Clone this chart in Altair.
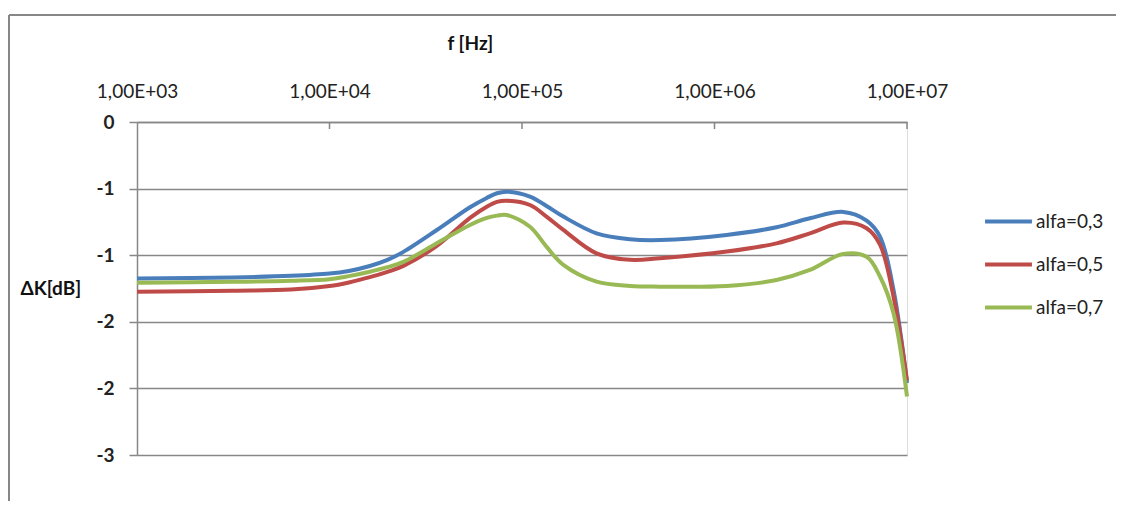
import altair as alt
import pandas as pd

freq = [1e3, 3.16e3, 6.31e3, 1e4, 1.26e4, 1.62e4, 2.0e4, 2.42e4, 3.61e4, 5.37e4, 6.56e4, 7.41e4,
        8.32e4, 1.10e5, 1.34e5, 1.64e5, 2.44e5, 3.64e5, 5.21e5, 1.156e6, 2.1e6, 3.13e6, 4.67e6,
        6.17e6, 7.24e6, 8.51e6, 1e7]
alfa_03 = [-1.175, -1.167, -1.155, -1.138, -1.118, -1.081, -1.035, -0.975, -0.811, -0.64, -0.57,
           -0.535, -0.523, -0.56, -0.63, -0.71, -0.836, -0.88, -0.886, -0.848, -0.79, -0.723,
           -0.675, -0.74, -0.86, -1.26, -1.96]
alfa_05 = [-1.274, -1.266, -1.258, -1.232, -1.205, -1.165, -1.125, -1.08, -0.93, -0.72, -0.636,
           -0.6, -0.591, -0.623, -0.71, -0.81, -0.986, -1.035, -1.023, -0.973, -0.911, -0.836,
           -0.755, -0.798, -0.92, -1.31, -1.94]
alfa_07 = [-1.206, -1.2, -1.192, -1.18, -1.157, -1.124, -1.09, -1.05, -0.911, -0.773, -0.72,
           -0.703, -0.698, -0.786, -0.936, -1.073, -1.199, -1.231, -1.236, -1.231, -1.186, -1.111,
           -0.99, -1.012, -1.16, -1.436, -2.06]
series_names = ["alfa=0,3", "alfa=0,5", "alfa=0,7"]
series_colors = ["#4A7EBB", "#BE4B48", "#98B954"]
x_ticks = [1e3, 1e4, 1e5, 1e6, 1e7]
y_ticks = [0, -0.5, -1, -1.5, -2, -2.5]

rows = []
for name, vals in zip(series_names, [alfa_03, alfa_05, alfa_07]):
    for f, v in zip(freq, vals):
        rows.append({"f": f, "dk": v, "series": name})
df = pd.DataFrame(rows)
ticks_df = pd.DataFrame({"f": x_ticks[1:]})

FONT = "Lato"
GRAY = "#878787"

xscale = alt.Scale(type="log", domain=[1e3, 1e7])
yscale = alt.Scale(domain=[-2.5, 0], nice=False, zero=False)

lines = alt.Chart(df).mark_line(strokeWidth=4, interpolate="catmull-rom").encode(
    x=alt.X("f:Q", scale=xscale, axis=alt.Axis(
        orient="top", values=x_ticks, grid=False, ticks=False, tickSize=0,
        labelFlush=False, labelOverlap=False, labelBound=False,
        labelExpr="'1,00E+0' + round(log(datum.value)/LN10)",
        labelPadding=31, labelBaseline="middle", labelFontSize=19, labelFont=FONT,
        labelColor="#222222", domainColor=GRAY, domainWidth=1.5,
        title="f [Hz]", titleFont=FONT, titleFontSize=19, titleFontWeight="bold",
        titleAlign="left", titleBaseline="middle", titleX=310, titleY=-79,
        titleColor="#111111")),
    y=alt.Y("dk:Q", scale=yscale, axis=alt.Axis(
        values=y_ticks, grid=True, gridColor=GRAY, gridWidth=1.5,
        tickSize=8, tickColor=GRAY, tickWidth=1.5, domainColor=GRAY, domainWidth=1.5,
        labelExpr="datum.value == 0 ? '0' : '-' + ceil(abs(datum.value) - 0.0001)",
        labelPadding=15, labelFontSize=19, labelFont=FONT, labelFontWeight="bold",
        labelColor="#222222", labelFlush=False, labelOverlap=False,
        title="ΔK[dB]", titleAngle=0, titleFont=FONT, titleFontSize=19,
        titleFontWeight="bold", titleAlign="left", titleBaseline="middle",
        titleX=-117, titleY=166, titleColor="#111111")),
    color=alt.Color("series:N", scale=alt.Scale(domain=series_names, range=series_colors),
                    legend=alt.Legend(
                        title=None, orient="none", legendX=846, legendY=74,
                        symbolType="stroke", symbolSize=2200, symbolStrokeWidth=4,
                        labelFont=FONT, labelFontSize=19, labelColor="#222222",
                        labelOffset=2, rowPadding=7)),
)

xticks = alt.Chart(ticks_df).mark_rule(color=GRAY, strokeWidth=1.5).encode(
    x=alt.X("f:Q", scale=xscale),
    y=alt.value(0), y2=alt.value(7))

frame_df = pd.DataFrame({"k": [0]})
frame_top = alt.Chart(frame_df).mark_rule(color=GRAY, strokeWidth=2).encode(
    x=alt.value(-128), x2=alt.value(1200), y=alt.value(-107))
frame_left = alt.Chart(frame_df).mark_rule(color=GRAY, strokeWidth=2).encode(
    x=alt.value(-128), y=alt.value(-107), y2=alt.value(600))

chart = alt.layer(lines, xticks, frame_top, frame_left).properties(
    width=770, height=333,
    autosize=alt.AutoSizeParams(type="none"),
    padding={"left": 129, "top": 114, "right": 209, "bottom": 46},
).configure_view(stroke=None).configure(background="white")

chart.save("out.html", embed_options={"renderer": "svg", "actions": False})
